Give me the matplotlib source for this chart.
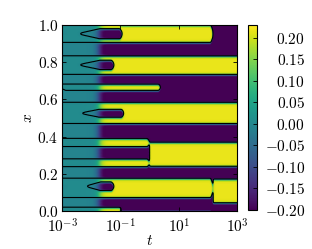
import numpy as np
import matplotlib
matplotlib.use('Agg')
import matplotlib.pyplot as plt
from matplotlib.ticker import FuncFormatter, FixedLocator

plt.rcParams['mathtext.fontset'] = 'cm'
plt.rcParams['font.family'] = 'serif'
plt.rcParams['font.size'] = 11

# ------------------------------ band data ---------------------------------
# bands painted (in order) over a negative background; t0/t1 = life span
band_lo   = [0.905, 0.925, 0.735, 0.760, 0.647, 0.470, 0.503, 0.345, 0.238,
             0.240, 0.072, 0.110, 0.045, 0.000,
             0.955, 0.795, 0.653, 0.535, 0.425, 0.125]
band_hi   = [1.000, 0.980, 0.835, 0.810, 0.683, 0.585, 0.547, 0.390, 0.280,
             0.370, 0.175, 0.155, 0.172, 0.020,
             0.965, 0.805, 0.660, 0.545, 0.432, 0.135]
band_sign = [1, -1, 1, -1, 1, 1, -1, 1, 1,
             1, 1, -1, 1, 1,
             -1, -1, -1, -1, 1, -1]
band_t0   = [1e-4, 3.3e-3, 1e-4, 3.3e-3, 1e-4, 1e-4, 3.8e-3, 1e-4, 1e-4,
             1.0, 1e-4, 6e-3, 150., 1e-4,
             1e-4, 1e-4, 1e-4, 1e-4, 1e-4, 1e-4]
band_t1   = [150., 0.115, 1e4, 0.06, 2.4, 1e4, 0.13, 1.0, 1.0,
             1e4, 150., 0.06, 1e4, 0.11,
             1.4e-3, 1.5e-3, 1.3e-3, 1.3e-3, 1.4e-3, 1.5e-3]

t_grow = 0.02        # fingers fully open here
onset_logt = -1.72   # log10 t where the pattern appears
amp = 0.215

# ------------------------------- field ------------------------------------
lt = np.linspace(-3, 3, 700)
xs = (np.arange(500) + 0.5) / 500
S = -np.ones((len(xs), len(lt)))
for lo, hi, s, t0, t1 in zip(band_lo, band_hi, band_sign, band_t0, band_t1):
    c, h = 0.5*(lo + hi), 0.5*(hi - lo)
    if 1e-3 < t0 < t_grow:
        g = np.clip((lt - np.log10(t0))/(np.log10(t_grow) - np.log10(t0)), 0, 1)
    else:
        g = (lt >= np.log10(t0)).astype(float)
    g = g*np.sqrt(np.clip((np.log10(t1) - lt)/0.08, 0, 1))
    mask = np.abs(xs[:, None] - c) < (h*g)[None, :]
    S[mask] = s

# smooth along x (periodic) and a little along log t
k = np.fft.fftfreq(len(xs), d=1/len(xs))
gx = np.exp(-0.5*(2*np.pi*k*0.006)**2)
S = np.real(np.fft.ifft(np.fft.fft(S, axis=0)*gx[:, None], axis=0))
kern = np.exp(-0.5*(np.arange(-6, 7)/2.0)**2)
kern /= kern.sum()
Sp = np.pad(S, ((0, 0), (6, 6)), mode='edge')
S = np.array([np.convolve(r, kern, mode='valid') for r in Sp])

A = 0.03 + 0.97/(1 + np.exp(-(lt - onset_logt)/0.07))
u = amp*A[None, :]*S
T = 10**lt

# ------------------------------- figure -----------------------------------
fig = plt.figure(figsize=(3.12, 2.49), dpi=100)
ax = fig.add_axes([0.199, 0.153, 0.561, 0.747])
pcm = ax.pcolormesh(T, xs, u, cmap='viridis', vmin=-0.2, vmax=0.23,
                    shading='gouraud', rasterized=True)
ax.contour(T, xs, u, levels=[0], colors='k', linewidths=0.8)
ax.set_xscale('log')
ax.set_xlim(1e-3, 1e3)
ax.set_ylim(0, 1)
ax.xaxis.set_major_locator(FixedLocator([1e-3, 1e-1, 1e1, 1e3]))
ax.xaxis.set_minor_locator(FixedLocator([]))
ax.xaxis.set_major_formatter(FuncFormatter(lambda v, p: r'$10^{%d}$' % round(np.log10(v))))
ax.yaxis.set_major_locator(FixedLocator(np.arange(0, 1.01, 0.2)))
ax.yaxis.set_major_formatter(FuncFormatter(lambda v, p: r'$%.1f$' % v))
ax.tick_params(direction='in', top=True, right=True, length=3, width=0.6)
ax.tick_params(axis='y', pad=2.5)
ax.tick_params(axis='x', pad=4.5)
ax.set_xlabel(r'$t$', labelpad=-1)
ax.set_ylabel(r'$x$', labelpad=2)

cax = fig.add_axes([0.795, 0.157, 0.029, 0.743])
cb = fig.colorbar(pcm, cax=cax)
cb.set_ticks(np.arange(-0.2, 0.201, 0.05))
cb.ax.yaxis.set_major_formatter(FuncFormatter(lambda v, p: r'$%.2f$' % (0.0 if abs(v) < 1e-9 else v)))
cax.tick_params(direction='in', length=3, width=0.6, pad=34.5)
for lab in cax.get_yticklabels():
    lab.set_horizontalalignment('right')
cb.outline.set_linewidth(0.8)

fig.savefig('out.png', dpi=100)
